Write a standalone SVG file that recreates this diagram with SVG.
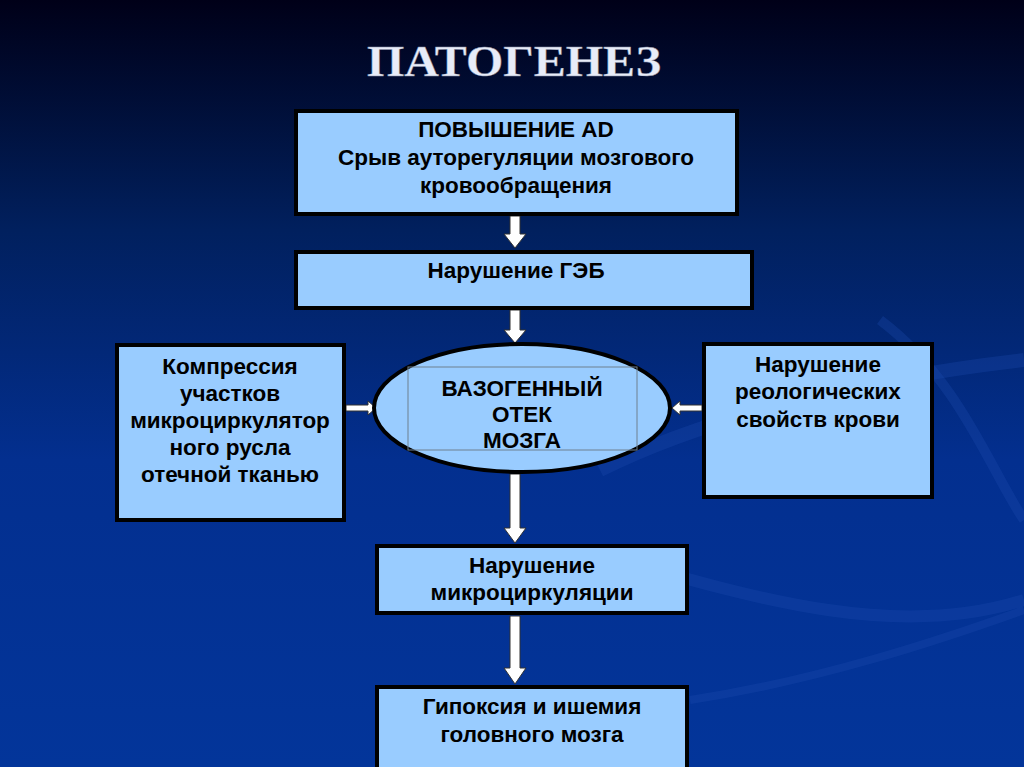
<svg xmlns="http://www.w3.org/2000/svg" width="1024" height="767" viewBox="0 0 1024 767">
<defs>
<linearGradient id="bg" x1="0" y1="0" x2="0" y2="1">
<stop offset="0" stop-color="#000018"/>
<stop offset="0.3" stop-color="#01205e"/>
<stop offset="0.6" stop-color="#032f8f"/>
<stop offset="1" stop-color="#03359a"/>
</linearGradient>
<style>
.box{fill:#99ccff;stroke:#000;stroke-width:4}
.t{font-family:"Liberation Sans",Arial,sans-serif;font-weight:bold;font-size:22.5px;fill:#000;text-anchor:middle}
.arr{fill:#fff;stroke:#333;stroke-width:1}
.sw{fill:none;stroke:#1d4bb0;stroke-opacity:0.3}
</style>
</defs>
<rect width="1024" height="767" fill="url(#bg)"/>
<g id="decor">
<path class="sw" stroke-width="14" d="M600 470 C 700 420, 850 380, 1024 360"/>
<path class="sw" stroke-width="10" d="M880 320 C 960 380, 990 470, 1024 520"/>
<path class="sw" stroke-width="12" d="M620 560 C 760 600, 900 640, 1024 600"/>
<path class="sw" stroke-width="8" d="M690 700 C 820 680, 940 640, 1024 610"/>
</g>
<text x="514" y="76" text-anchor="middle" font-family="'Liberation Serif','Times New Roman',serif" font-weight="bold" font-size="44" fill="#e8ecf8" stroke="#8890a8" stroke-width="0.4" textLength="294" lengthAdjust="spacingAndGlyphs">ПАТОГЕНЕЗ</text>
<g id="connectors">
<path class="arr" d="M510 216 h10 v18 h6 l-11 14 l-11 -14 h6 z"/>
<path class="arr" d="M510 310 h10 v20 h6 l-11 13 l-11 -13 h6 z"/>
<path class="arr" d="M510 474 h10 v54 h6 l-11 15 l-11 -15 h6 z"/>
<path class="arr" d="M510 616 h10 v52 h6 l-11 16 l-11 -16 h6 z"/>
<path class="arr" d="M346 405 h22 v-4 l8 7 l-8 7 v-4 h-22 z"/>
<path class="arr" d="M702 405 h-22 v-4 l-8 7 l8 7 v-4 h22 z"/>
</g>
<g id="n1">
<rect class="box" x="296" y="111" width="441" height="103"/>
<text class="t" x="516" y="137">ПОВЫШЕНИЕ AD</text>
<text class="t" x="516" y="165">Срыв ауторегуляции мозгового</text>
<text class="t" x="516" y="193">кровообращения</text>
</g>
<g id="n2">
<rect class="box" x="296" y="252" width="456" height="56"/>
<text class="t" x="516" y="278">Нарушение ГЭБ</text>
</g>
<g id="n3">
<ellipse cx="522" cy="408" rx="148" ry="64" fill="#99ccff" stroke="#000" stroke-width="4"/>
<rect x="408" y="367" width="229" height="83" fill="none" stroke="#6f8090" stroke-width="1"/>
<text class="t" x="522" y="396">ВАЗОГЕННЫЙ</text>
<text class="t" x="522" y="422">ОТЕК</text>
<text class="t" x="522" y="448">МОЗГА</text>
</g>
<g id="n4">
<rect class="box" x="117" y="345" width="227" height="175"/>
<text class="t" x="230" y="374">Компрессия</text>
<text class="t" x="230" y="401">участков</text>
<text class="t" x="230" y="428">микроциркулятор</text>
<text class="t" x="230" y="455">ного русла</text>
<text class="t" x="230" y="482">отечной тканью</text>
</g>
<g id="n5">
<rect class="box" x="704" y="344" width="228" height="153"/>
<text class="t" x="818" y="372">Нарушение</text>
<text class="t" x="818" y="399">реологических</text>
<text class="t" x="818" y="427">свойств крови</text>
</g>
<g id="n6">
<rect class="box" x="377" y="546" width="310" height="67"/>
<text class="t" x="532" y="573">Нарушение</text>
<text class="t" x="532" y="600">микроциркуляции</text>
</g>
<g id="n7">
<rect class="box" x="377" y="687" width="310" height="90"/>
<text class="t" x="532" y="714">Гипоксия и ишемия</text>
<text class="t" x="532" y="742">головного мозга</text>
</g>
</svg>
